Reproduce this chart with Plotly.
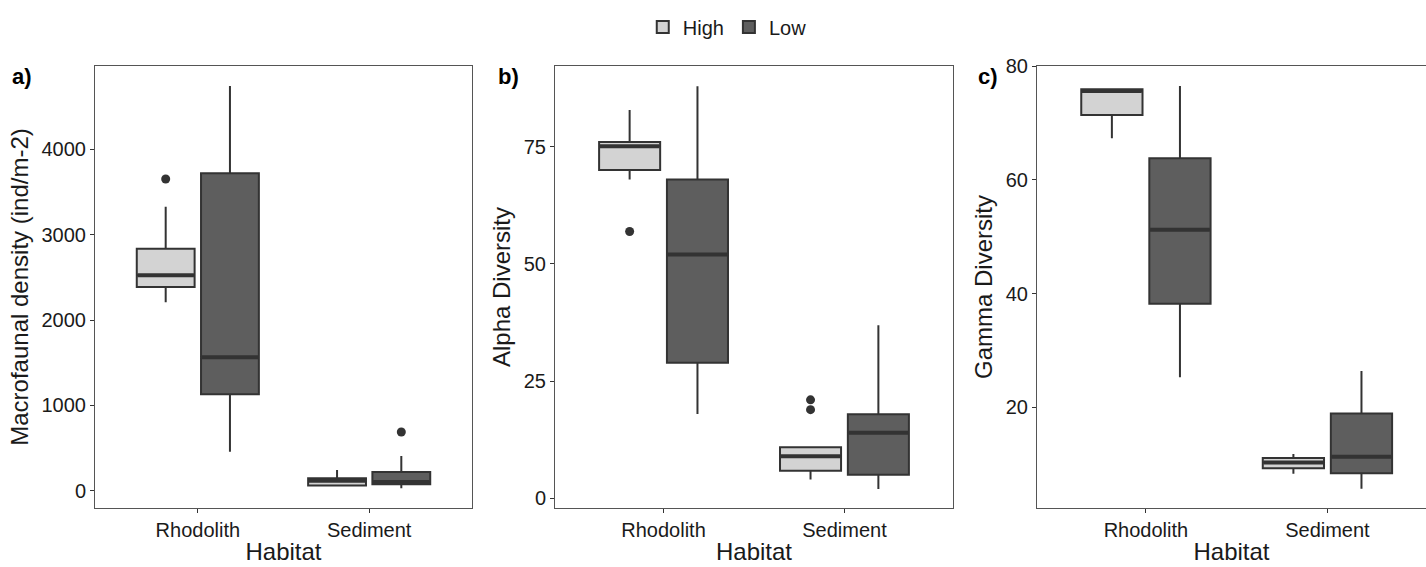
import plotly.graph_objects as go

# ---------------- data ----------------
habitats = ["Rhodolith", "Sediment"]
groups = ["High", "Low"]

# Macrofaunal density (ind/m-2)
dens_high_lower = [2207, 60]
dens_high_q1 = [2386, 63]
dens_high_median = [2522, 121]
dens_high_q3 = [2834, 148]
dens_high_upper = [3325, 246]
dens_low_lower = [460, 31]
dens_low_q1 = [1131, 78]
dens_low_median = [1563, 105]
dens_low_q3 = [3716, 222]
dens_low_upper = [4737, 409]
dens_high_out = [[3649], []]
dens_low_out = [[], [690]]

# Alpha diversity
alpha_high_lower = [68.0, 4.0]
alpha_high_q1 = [70.0, 5.9]
alpha_high_median = [75.1, 8.95]
alpha_high_q3 = [76.0, 10.9]
alpha_high_upper = [82.8, 10.9]
alpha_low_lower = [18.0, 2.0]
alpha_low_q1 = [28.9, 5.0]
alpha_low_median = [52.0, 14.0]
alpha_low_q3 = [68.0, 17.9]
alpha_low_upper = [87.9, 36.9]
alpha_high_out = [[56.9], [21.0, 18.9]]
alpha_low_out = [[], []]

# Gamma diversity
gamma_high_lower = [67.3, 8.3]
gamma_high_q1 = [71.4, 9.3]
gamma_high_median = [75.6, 10.3]
gamma_high_q3 = [75.9, 11.1]
gamma_high_upper = [76.1, 11.8]
gamma_low_lower = [25.3, 5.7]
gamma_low_q1 = [38.2, 8.4]
gamma_low_median = [51.2, 11.3]
gamma_low_q3 = [63.8, 18.9]
gamma_low_upper = [76.5, 26.4]
gamma_high_out = [[], []]
gamma_low_out = [[], []]

# ---------------- style ----------------
FONT = "Liberation Sans, Arial, sans-serif"
FILL = {"High": "#d3d3d3", "Low": "#5e5e5e"}
LINE = "#333333"
BOXW = 0.3375
OFFS = {"High": -0.1875, "Low": 0.1875}
W, H = 1426, 567

panels = [
    dict(name="a)", ytitle="Macrofaunal density (ind/m-2)",
         high=(dens_high_lower, dens_high_q1, dens_high_median, dens_high_q3, dens_high_upper, dens_high_out),
         low=(dens_low_lower, dens_low_q1, dens_low_median, dens_low_q3, dens_low_upper, dens_low_out),
         yrange=[-199, 4971], ytick=[0, 1000, 2000, 3000, 4000],
         xdom=[95, 472], xrange=[-0.6, 1.6], lab_x=10),
    dict(name="b)", ytitle="Alpha Diversity",
         high=(alpha_high_lower, alpha_high_q1, alpha_high_median, alpha_high_q3, alpha_high_upper, alpha_high_out),
         low=(alpha_low_lower, alpha_low_q1, alpha_low_median, alpha_low_q3, alpha_low_upper, alpha_low_out),
         yrange=[-2.07, 92.2], ytick=[0, 25, 50, 75],
         xdom=[555, 953], xrange=[-0.6, 1.6], lab_x=496),
    dict(name="c)", ytitle="Gamma Diversity",
         high=(gamma_high_lower, gamma_high_q1, gamma_high_median, gamma_high_q3, gamma_high_upper, gamma_high_out),
         low=(gamma_low_lower, gamma_low_q1, gamma_low_median, gamma_low_q3, gamma_low_upper, gamma_low_out),
         yrange=[2.3, 80], ytick=[20, 40, 60, 80],
         xdom=[1037, 1426], xrange=[-0.6, 1.543], lab_x=976),
]

fig = go.Figure()
ydom = [1 - 508 / H, 1 - 66 / H]

for i, p in enumerate(panels):
    n = "" if i == 0 else str(i + 1)
    xa, ya = "x" + n, "y" + n
    for g in groups:
        lower, q1, med, q3, upper, outs = p["high"] if g == "High" else p["low"]
        pos = [k + OFFS[g] for k in range(len(habitats))]
        fig.add_trace(go.Box(
            x=pos, lowerfence=lower, q1=q1, median=med, q3=q3, upperfence=upper,
            width=BOXW, whiskerwidth=0, boxpoints=False,
            fillcolor=FILL[g], line=dict(color=LINE, width=2),
            name=g, legendgroup=g, showlegend=(i == 0),
            xaxis=xa, yaxis=ya, hoverinfo="skip"))
        # thicker median line (ggplot style)
        for k in range(len(habitats)):
            fig.add_trace(go.Scatter(
                x=[pos[k] - BOXW / 2 + 0.004, pos[k] + BOXW / 2 - 0.004], y=[med[k], med[k]],
                mode="lines", line=dict(color=LINE, width=4),
                showlegend=False, hoverinfo="skip", xaxis=xa, yaxis=ya))
        # outliers
        ox, oy = [], []
        for k in range(len(habitats)):
            for v in outs[k]:
                ox.append(pos[k])
                oy.append(v)
        if ox:
            fig.add_trace(go.Scatter(
                x=ox, y=oy, mode="markers",
                marker=dict(color=LINE, size=9, line=dict(width=0)),
                showlegend=False, hoverinfo="skip", xaxis=xa, yaxis=ya))

    axis_common = dict(showline=True, mirror=True, linecolor="#555555", linewidth=1,
                       ticks="outside", ticklen=4, tickcolor=LINE, tickwidth=1,
                       showgrid=False, zeroline=False, automargin=False,
                       tickfont=dict(family=FONT, size=20, color="#1a1a1a"))
    fig.layout["xaxis" + n] = dict(
        domain=[p["xdom"][0] / W, p["xdom"][1] / W], range=p["xrange"],
        tickvals=list(range(len(habitats))), ticktext=habitats,
        title=dict(text="Habitat", font=dict(family=FONT, size=24, color="#1a1a1a"), standoff=3),
        anchor=ya, **axis_common)
    fig.layout["yaxis" + n] = dict(
        domain=ydom, range=p["yrange"], tickvals=p["ytick"],
        title=dict(text=p["ytitle"], font=dict(family=FONT, size=24, color="#1a1a1a"), standoff=6),
        anchor=xa, **axis_common)
    fig.add_annotation(text="<b>%s</b>" % p["name"], x=p["lab_x"] / W, y=1 - 76 / H,
                       xref="paper", yref="paper", xanchor="left", yanchor="middle",
                       showarrow=False, font=dict(family=FONT, size=22, color="#000000"))

fig.update_layout(
    width=W, height=H, margin=dict(l=0, r=0, t=0, b=0),
    paper_bgcolor="white", plot_bgcolor="white",
    font=dict(family=FONT, color="#1a1a1a"),
    legend=dict(orientation="h", x=0.51, xanchor="center", y=1 - 27 / H, yanchor="middle",
                font=dict(family=FONT, size=20, color="#1a1a1a"), itemwidth=30,
                bgcolor="rgba(0,0,0,0)"),
)

fig.write_html("out.html")
